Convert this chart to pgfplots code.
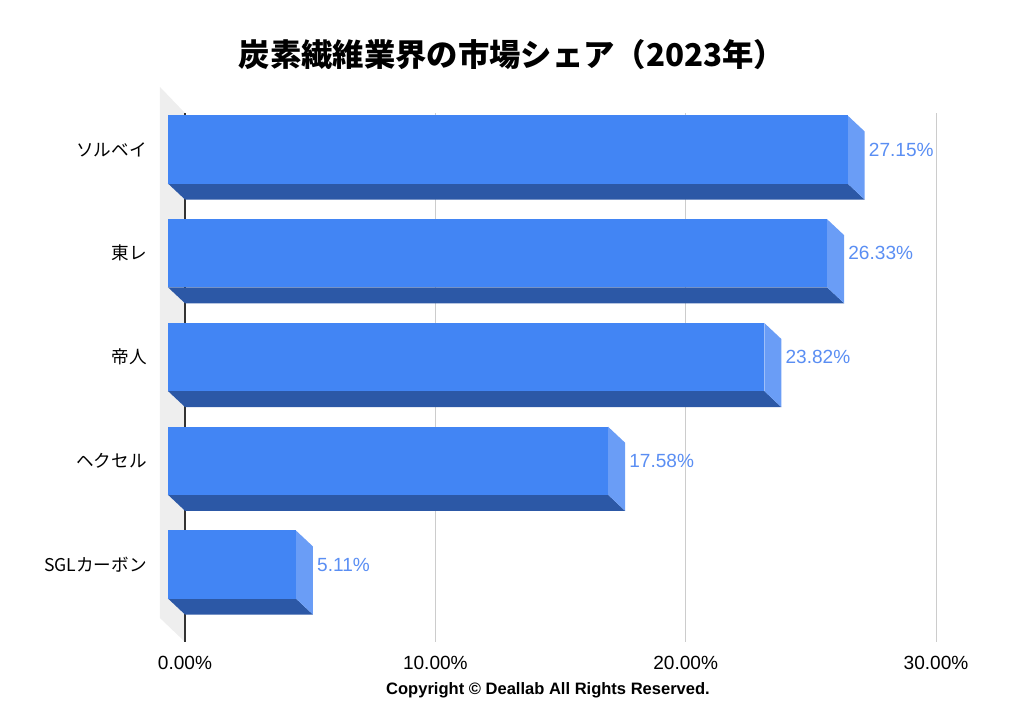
\documentclass[border=0pt]{standalone}
\usepackage{fontspec}
\setmainfont{Liberation Sans}
\newfontfamily\jp{Noto Sans CJK JP}
\usepackage{pgfplots}
\usepackage{pgfplotstable}
\pgfplotsset{compat=1.18}

\definecolor{cfront}{HTML}{4285F4}
\definecolor{cbottom}{HTML}{2C58A6}
\definecolor{cside}{HTML}{6A9DF6}
\definecolor{clabel}{HTML}{5A8EF3}
\definecolor{cwall}{HTML}{EEEEEE}
\definecolor{cgrid}{HTML}{CCCCCC}

% unit shapes of the three visible faces of a 3D bar (a = factor of the value, b = x offset, y = offset from category)
\pgfplotstableread{
a b y
0 -0.68 0.328
1 -0.68 0.328
1 -0.68 -0.328
0 -0.68 -0.328
}\frontshape
\pgfplotstableread{
a b y
0 -0.68 -0.328
1 -0.68 -0.328
1 0 -0.482
0 0 -0.482
}\bottomshape
\pgfplotstableread{
a b y
1 -0.68 0.328
1 0 0.174
1 0 -0.482
1 -0.68 -0.328
}\sideshape

\newcommand\cfbar[2]{%
  \addplot[fill=cbottom,draw=none,mark=none] table[x expr={\thisrow{a}*#2+\thisrow{b}}, y expr={\thisrow{y}+#1}] {\bottomshape};
  \addplot[fill=cside,draw=none,mark=none] table[x expr={\thisrow{a}*#2+\thisrow{b}}, y expr={\thisrow{y}+#1}] {\sideshape};
  \addplot[fill=cfront,draw=none,mark=none] table[x expr={\thisrow{a}*#2+\thisrow{b}}, y expr={\thisrow{y}+#1}] {\frontshape};
}

\begin{document}
\begin{tikzpicture}
\useasboundingbox (-138.75pt,-53.25pt) rectangle (629.25pt,481.5pt);
\begin{axis}[
  at={(0,0)}, anchor=south west, scale only axis,
  width=563.25pt, height=396.75pt,
  xmin=0, xmax=30, ymin=-0.747, ymax=4.352,
  clip=false,
  axis line style={draw=none},
  xtick={0,10,20,30},
  xticklabels={0.00\%,10.00\%,20.00\%,30.00\%},
  ytick={0,1,2,3,4},
  yticklabels={SGLカーボン,ヘクセル,帝人,東レ,ソルベイ},
  major tick length=0pt,
  xmajorgrids,
  grid style={cgrid, line width=0.75pt},
  xticklabel style={font=\fontsize{14.3}{16}\selectfont, anchor=center, yshift=-15.75pt, inner sep=0pt},
  yticklabel style={font=\jp\fontsize{13.2}{15}\selectfont, anchor=east, inner sep=0pt, xshift=-28.5pt},
]
\addplot[fill=cwall, draw=none, mark=none] coordinates {(-1.0,4.603) (0,4.352) (0,-0.747) (-1.0,-0.516)};
\addplot[draw=black!80, line width=1pt, mark=none] coordinates {(0,-0.747) (0,4.352)};

\cfbar{4}{27.15}
\cfbar{3}{26.33}
\cfbar{2}{23.82}
\cfbar{1}{17.58}
\cfbar{0}{5.11}

\addplot[draw=none, mark=none, nodes near coords, point meta=explicit symbolic,
  nodes near coords style={anchor=west, inner sep=0pt, xshift=3pt, text=clabel, font=\fontsize{14.3}{16}\selectfont}]
  coordinates {(27.15,4) [27.15\%] (26.33,3) [26.33\%] (23.82,2) [23.82\%] (17.58,1) [17.58\%] (5.11,0) [5.11\%]};
\end{axis}
\node[font=\jp\bfseries\fontsize{23.5}{26}\selectfont] at (245.25pt,440.25pt) {炭素繊維業界の市場シェア（2023年）};
\node[font=\bfseries\fontsize{12.4}{14}\selectfont] at (272.25pt,-36pt) {Copyright © Deallab All Rights Reserved.};
\end{tikzpicture}
\end{document}
